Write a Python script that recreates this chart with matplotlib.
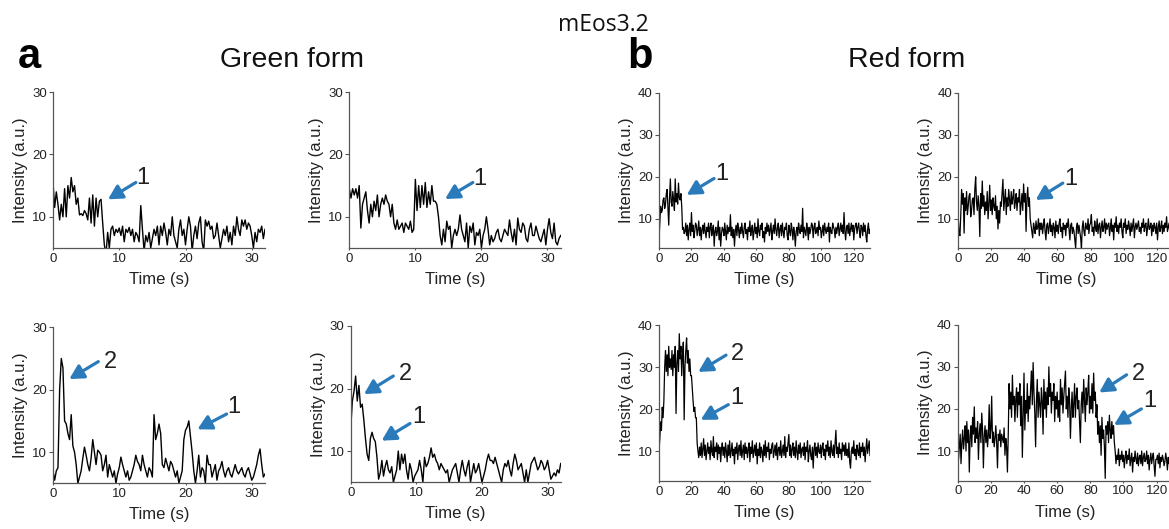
import numpy as np
import matplotlib
matplotlib.use("Agg")
import matplotlib.pyplot as plt

plt.rcParams['font.family'] = ['Liberation Sans', 'DejaVu Sans']

# ---------------- data ----------------
green_step = 0.25   # s between samples (green traces)
red_step = 0.5      # s between samples (red traces)

green_a1 = [15.5, 11.5, 14, 12, 9.5, 12, 10, 14.5,
            10, 15, 13, 16.3, 14, 15, 12, 13,
            10.3, 10.5, 10.2, 11, 10.5, 9.5, 13, 9,
            13.5, 8.5, 13, 10, 12.5, 12.8, 9, 5.5,
            4, 7.5, 5, 8, 8.5, 7, 8, 7.5,
            8.2, 7, 8.5, 6, 8, 7.5, 8.3, 7,
            8, 6, 7.5, 7, 6, 11.8, 8, 4.5,
            7, 6, 7.5, 5, 6.5, 8, 7, 8.5,
            5.5, 8.5, 7, 9, 7.5, 5.5, 8, 7,
            10, 7, 6, 5, 8, 9.5, 7, 8,
            5.5, 8, 10, 8.5, 4.5, 7, 8.5, 6.5,
            9, 10, 6, 4.5, 9.5, 8.5, 9.3, 8,
            8.5, 6.5, 7, 9, 7, 5, 6.5, 8,
            7, 8.5, 6, 7.5, 5.5, 8.5, 7, 10,
            8, 7, 9.5, 8.5, 9.5, 8, 9, 8.5,
            7, 5, 7.5, 6, 8, 7.5, 8.5, 6.5,
            8]

green_a2 = [14.5, 13, 14.5, 13.5, 14.5, 13, 15, 8.2,
            12, 13, 14, 11, 9, 12, 10, 12.5,
            11, 13.5, 10, 12, 13, 12, 13.5, 12.5,
            12, 10, 12, 9, 8, 9.5, 8, 8.5,
            9, 7.5, 9, 8.5, 8, 9.3, 7.5, 8,
            16, 11, 15, 11.5, 15, 12, 15.5, 11.5,
            14, 12, 15, 12.5, 12.5, 12, 10, 7,
            5.5, 8, 6, 9.3, 8, 8.5, 5, 7,
            8, 7, 8, 10.3, 8, 7, 6, 9,
            5, 8.5, 7.5, 9, 5.5, 7.5, 7, 8,
            5, 7, 8, 10, 8, 5.5, 7, 6,
            6.5, 7.5, 8, 6.5, 6, 7, 8, 7.5,
            7, 9.5, 7.5, 6, 8, 5.5, 9.8, 8,
            7.5, 9, 8.5, 6.5, 6, 8, 9, 7,
            7, 8.5, 7.5, 6.5, 6, 7, 8, 5.5,
            8, 9.7, 7.5, 6.5, 9, 6, 5.5, 6.5,
            7]

green_a3 = [7, 5.5, 7, 7.5, 20, 25, 23.5, 15,
            14.5, 13, 12, 16, 11, 10, 8, 5,
            6, 7, 9, 10.8, 9.5, 8, 7, 9,
            12, 10, 8, 10.3, 10, 9.5, 7, 8,
            9.5, 6, 8, 7, 6, 7, 5, 6.5,
            7.5, 9.2, 8, 7, 6, 7, 5.5, 6,
            7, 8, 9.5, 8.5, 8, 7, 9.5, 8,
            7, 6, 7.5, 7, 6, 16, 12, 13,
            14.5, 13, 8, 7.5, 9, 8, 7, 8.5,
            8, 7, 6, 7, 5, 6, 7, 12,
            13.5, 14, 15, 12.5, 10, 7, 5, 7,
            9.5, 6, 7.5, 7, 5, 9.5, 8, 8,
            6, 7, 8, 5.5, 7, 7.5, 8.5, 7,
            6, 7, 7.5, 6.5, 6, 7, 8, 7,
            6.5, 7, 7.5, 6.5, 6, 7, 7.5, 6.5,
            5.5, 6, 7, 8, 9.5, 10.5, 8, 6,
            6.5]

green_a4 = [13.5, 18, 19.5, 22, 18, 20.5, 17, 17.5,
            15, 12, 9.5, 8.5, 12, 13, 12, 11.5,
            9, 5.5, 6.5, 8.5, 6, 7.5, 8.5, 7,
            6.5, 7.5, 5, 6, 7, 10, 7, 9.5,
            8, 9.5, 7, 5.5, 8, 7, 5, 6,
            6.5, 7, 8.5, 7, 5, 9, 7.5, 8,
            9, 10.5, 9, 9.5, 8.5, 8, 7, 8,
            7.5, 7, 6.5, 7, 5, 6, 7, 7.5,
            8, 6.5, 5, 7, 8.5, 7, 6, 7.5,
            8.5, 5, 6.5, 8, 6.5, 7, 8, 6.5,
            5, 6, 7, 8.5, 9.5, 8.5, 8.5, 8,
            9, 8, 7, 6, 5, 7, 8, 7.5,
            8.5, 7, 6, 8, 9.5, 8.5, 7, 7.5,
            8, 6.5, 5, 7, 5, 6.5, 8, 8.5,
            9, 8, 7, 7.5, 8.5, 8, 7, 7.5,
            8.5, 7, 5.5, 6, 6.5, 6, 7, 6.5,
            8]

red_b1 = [5, 9, 13, 11.5, 12, 14.5, 15, 12.5, 13.5, 16,
          17, 13, 8.5, 15, 19.5, 14, 13, 16.5, 14.5, 12,
          19.5, 14, 16, 13.5, 18.5, 15, 14.5, 16, 13, 7.5,
          8, 6.5, 7, 9, 6, 8.5, 5, 7.5, 9, 6,
          11.5, 7, 8.5, 5.5, 7, 9, 8.5, 6, 7.5, 9.5,
          6, 8, 5, 7.5, 8.5, 6.5, 9, 7, 5.5, 8,
          7, 9, 5.5, 8, 9, 6, 7.5, 8.5, 3.5, 7,
          8, 6, 7, 9.5, 5, 8, 3.5, 6.5, 8, 7.5,
          6, 9, 7, 5, 8.5, 6.5, 8, 7, 11, 6,
          8, 5.5, 7.5, 3.5, 7, 8.5, 6, 9, 7.5, 5.5,
          8, 6.5, 9, 7, 5.5, 8, 9, 6.5, 7.5, 5,
          8, 7, 9.5, 6, 7.5, 8.5, 5, 7, 9, 6.5,
          8, 5.5, 10, 7, 6, 8.5, 7.5, 9, 5.5, 7,
          4.5, 8, 6.5, 9, 7, 8.5, 6, 7.5, 9, 5,
          7, 8.5, 6.5, 10, 7.5, 6, 8, 9, 5.5, 7.5,
          8.5, 6, 9, 7, 5.5, 8, 7.5, 9, 6, 5,
          8.5, 7, 6, 9, 7.5, 5, 8, 6.5, 3.5, 7,
          8, 6, 9, 7.5, 6.5, 8.5, 7, 12.5, 5.5, 8,
          7, 6, 9, 7.5, 5, 8, 6.5, 7.5, 9, 8.5,
          5.5, 8, 9, 6.5, 7, 8, 6, 9.5, 7.5, 8,
          5.5, 7, 8.5, 6, 9, 7.5, 6.5, 8, 7, 9,
          4.5, 8, 7, 6.5, 9, 8, 7.5, 5.5, 8, 6.5,
          8, 9, 6, 7.5, 9, 7, 8.5, 6.5, 11.5, 7,
          5, 8, 8.5, 6.5, 9, 6, 7.5, 9, 7, 8.5,
          5, 7.5, 8.5, 9, 6.5, 8, 9, 7, 5.5, 8.5,
          8, 6, 9, 7, 8.5, 6, 4.5, 7.5, 9, 6.5,
          7.5]

red_b2 = [10, 6.5, 6, 11, 17, 13.5, 16, 6.6, 15, 12,
          16.5, 11, 13, 15.5, 16, 10.5, 12, 14.5, 15, 11,
          17, 20, 14, 12, 15.5, 13, 5.8, 16, 12.5, 19,
          13, 15.5, 11, 14, 12, 16.5, 10, 13.5, 18, 12,
          14.5, 11, 15, 13, 12, 15.5, 10, 13, 7.6, 12,
          9, 14, 13, 16, 19.4, 12, 14.5, 17, 11, 15,
          13, 17, 14.5, 12, 16.5, 13.5, 15, 17, 12.5, 14,
          16, 12, 15, 14, 17, 11, 13.5, 16, 12, 18.3,
          14, 16, 7, 15, 17.5, 13, 15, 10, 8.5, 7,
          5.5, 9, 8, 6.5, 9.5, 7.5, 8, 10, 6, 9,
          7.5, 9, 6.5, 8.5, 10, 7, 5, 8.5, 9, 6.5,
          8, 10, 7, 8.5, 6, 9, 8, 5.5, 9.5, 7,
          8.5, 6.5, 9, 10, 7, 8, 5.5, 9, 7.5, 8.5,
          6, 9, 8, 10, 7.5, 5, 8.5, 9, 6.5, 8,
          7, 5, 3, 8, 9, 6.5, 8.5, 7, 5.5, 3,
          8, 9.5, 7, 6, 9, 8, 7.5, 10, 6.5, 8.5,
          9, 11, 7, 8, 6, 9.5, 8, 7, 10, 6.5,
          8.5, 9, 5.5, 8, 9.5, 7, 8, 10, 6.5, 9,
          7.5, 8.5, 9, 6, 8, 10, 7, 8.5, 5, 9,
          8, 10.5, 7, 8.5, 6.5, 9, 8, 10, 7, 5.5,
          9, 8, 10, 6.5, 8.5, 7.5, 9.5, 8, 6, 9,
          7, 8.5, 10, 5.5, 8, 9, 7.5, 8.5, 9.5, 7,
          8, 6.5, 9, 8, 10, 7, 8.5, 9, 6, 8,
          10, 7.5, 8, 9, 6, 8.5, 7, 9, 8, 6.5,
          9, 5, 8, 9.5, 7, 8, 9.5, 6.5, 8.5, 7,
          9, 8, 10.5, 7, 8, 9, 6.5, 8.5, 7.5, 9,
          8]

red_b3 = [10, 13, 17, 15, 20.5, 18, 22, 30, 34, 29,
          33, 28, 35, 30, 32, 29.5, 34, 28, 33, 30,
          35, 19, 31, 34, 29, 38, 32, 35, 28, 33,
          36, 17.5, 30, 34, 37, 31, 34, 29, 32, 28,
          28, 25, 22, 19.5, 20.5, 18, 18, 12, 10, 8.5,
          11, 9, 12, 8.5, 10.5, 13, 9, 11.5, 8, 10,
          12, 9.5, 11, 8, 12.5, 10, 9, 13.5, 8.5, 11,
          10, 12, 8, 11.5, 9.5, 11, 7.5, 10.5, 12, 9,
          11, 8.5, 12, 10, 7.5, 11.5, 9, 12.5, 8.5, 10,
          12, 9, 10.5, 7, 11, 9.5, 12, 8, 10.5, 11.5,
          9, 12.5, 8.5, 10, 11.5, 8, 12, 9.5, 11, 8.5,
          10.5, 12, 7.5, 11, 9.5, 12.5, 8.5, 10, 11.5, 9,
          12, 7, 10.5, 9, 12, 8.5, 11, 10, 7.5, 11.5,
          9, 12.5, 8.5, 11, 10, 12, 8, 10.5, 9.5, 11.5,
          12, 8.5, 10, 11.5, 9, 12, 8, 10.5, 11, 9,
          12.5, 8.5, 10, 11.5, 9, 13.5, 8.5, 11, 10, 12,
          14, 9, 11.5, 8.5, 10.5, 12, 9, 11, 8.5, 12.5,
          10, 8, 11.5, 9.5, 12, 8.5, 10.5, 11, 9, 12,
          8, 11, 10, 12.5, 7.5, 10, 11.5, 9, 8, 11,
          6, 10.5, 12, 9, 11, 8.5, 12, 10, 9.5, 11.5,
          8.5, 11, 12, 9, 10.5, 8, 11.5, 10, 12.5, 9,
          11, 8.5, 12.5, 10, 9, 11.5, 8.5, 12, 15, 9.5,
          11, 8.5, 12, 9.5, 10.5, 8, 12, 10, 11.5, 9,
          12, 9, 10.5, 8.5, 12, 7.5, 6, 10, 11, 9.5,
          12.5, 9, 10.5, 8, 11.5, 10, 9, 12, 8.5, 11,
          10, 12, 9, 11, 7.5, 10.5, 13, 9.5, 11, 12.5,
          9]

red_b4 = [18.5, 8, 11, 14, 7, 12, 15, 10.5, 13, 16,
          10, 17, 12, 15, 5, 13.5, 16, 11, 18, 14,
          20.5, 12, 15.5, 13, 17, 8, 14, 16.5, 12, 19,
          15, 6, 13.5, 16, 12, 15, 11, 14, 21, 13,
          15, 23, 12, 14.5, 11, 13, 16, 12, 6, 14,
          12.5, 15, 11, 14, 13, 12, 15.5, 9, 13, 11,
          5, 14, 26, 20, 24, 18, 28, 21, 23, 17,
          22, 25, 18, 24, 21, 26, 16, 23, 8.5, 19,
          28.5, 15, 22, 19, 26, 17, 23, 20, 25, 29,
          21, 31, 24, 19, 11, 22, 27, 18, 24, 21,
          18, 25, 22, 14, 27, 20, 24, 18, 25, 21,
          30, 23, 26, 19, 24, 22, 26, 17, 23, 20,
          24, 18, 22, 17, 27, 21, 25, 19, 23, 26,
          29, 20, 23, 18, 25, 22, 13, 20, 24, 18,
          21, 26, 18, 23, 25, 20, 22, 17, 12, 21,
          24, 19, 27, 22, 17, 25, 21, 24, 28, 19,
          23, 20, 26, 19, 28.5, 22, 24, 18, 21, 14,
          17, 12, 16, 9, 18, 13, 15, 11, 3.5, 16,
          14, 17, 12, 18.5, 15, 13, 17, 14, 16, 12,
          10, 7, 9, 8, 10.5, 6.5, 9, 8, 10, 7.5,
          9, 6, 8.5, 10, 7, 9, 8, 10.5, 6.5, 8,
          9.5, 5, 8.5, 7.5, 10, 8, 7, 9.5, 6.5, 8.5,
          9, 7, 10, 6.5, 8.5, 9.5, 7.5, 8, 10, 7,
          9, 5.5, 8, 9.5, 7, 8.5, 9.5, 6.5, 4, 8,
          8, 9, 7, 9.5, 6, 8.5, 7.5, 9, 8, 6.5,
          7.5, 9.5, 8, 5.5, 8.5, 7, 9, 8, 6.5, 9,
          6.5]

green_xticks = [0, 10, 20, 30]
green_yticks = [10, 20, 30]
red_xticks = [0, 20, 40, 60, 80, 100, 120]
red_yticks = [10, 20, 30, 40]

# ---------------- layout ----------------
W, H = 1169, 529
fig = plt.figure(figsize=(W / 100, H / 100), dpi=100)

def rect(l, r, t, b):
    return [l / W, 1 - b / H, (r - l) / W, (b - t) / H]

ARROW = '#2B7BBA'

panels = [
    # values, step, px box (l, r, t, b), xlim, ylim, xticks, yticks, annotations
    (green_a1, green_step, (53, 265, 92, 248), (0, 32), (5, 30), green_xticks, green_yticks,
     [('1', (13.6, 16.2), (12.5, 15.5), (8.3, 12.8))]),
    (green_a2, green_step, (349.3, 560.7, 92, 248), (0, 32), (5, 30), green_xticks, green_yticks,
     [('1', (19.8, 16.1), (18.7, 15.5), (14.5, 12.85))]),
    (green_a3, green_step, (53, 265, 327.3, 483.3), (0, 32), (5, 30), green_xticks, green_yticks,
     [('2', (8.6, 24.4), (6.84, 24.5), (2.46, 21.7)),
      ('1', (27.3, 17.2), (26.2, 16.1), (21.8, 13.65))]),
    (green_a4, green_step, (350.7, 560.7, 326, 482.3), (0, 32), (5, 30), green_xticks, green_yticks,
     [('2', (8.4, 22.3), (6.49, 22.0), (2.03, 19.1)),
      ('1', (10.4, 15.4), (9.03, 14.4), (4.72, 11.66))]),
    (red_b1, red_step, (659, 870, 92.7, 248.3), (0, 130), (3, 40), red_xticks, red_yticks,
     [('1', (38.8, 20.6), (33.9, 19.6), (17.1, 15.7))]),
    (red_b2, red_step, (958.3, 1173.2, 92.7, 248.3), (0, 130), (3, 40), red_xticks, red_yticks,
     [('1', (68.2, 19.5), (63.2, 18.5), (46.8, 14.5))]),
    (red_b3, red_step, (659, 870, 325.3, 480.7), (0, 130), (3, 40), red_xticks, red_yticks,
     [('2', (48.2, 33.2), (41.3, 32.9), (24.2, 28.9)),
      ('1', (48.2, 22.6), (42.7, 21.1), (25.7, 17.5))]),
    (red_b4, red_step, (957.7, 1173.2, 324.7, 480.5), (0, 130), (3, 40), red_xticks, red_yticks,
     [('2', (109.2, 28.3), (101.9, 28.1), (85.4, 23.9)),
      ('1', (115.7, 21.9), (110.8, 20.0), (94.3, 16.2))]),
]

SPINE = '#555555'
for vals, step, box, xl, yl, xt, yt, annots in panels:
    l, r, t, b = box
    ax = fig.add_axes(rect(l, r, t, b))
    v = np.asarray(vals, dtype=float)
    tt = np.arange(len(v)) * step
    ax.plot(tt, v, color='black', lw=1.0 if step < 0.5 else 0.9)
    ax.set_xlim(*xl)
    ax.set_ylim(*yl)
    ax.set_xticks(xt)
    ax.set_yticks(yt)
    for s in ('top', 'right'):
        ax.spines[s].set_visible(False)
    for s in ('left', 'bottom'):
        ax.spines[s].set_color(SPINE)
        ax.spines[s].set_linewidth(0.9)
    ax.tick_params(axis='y', direction='out', length=3, width=0.8, colors=SPINE,
                   labelsize=9.5, labelcolor='#222222', pad=1.5)
    ax.tick_params(axis='x', direction='out', length=1.5, width=0.8, colors=SPINE,
                   labelsize=9.5, labelcolor='#222222', pad=2)
    ax.set_ylabel('Intensity (a.u.)', fontsize=12, color='#222222')
    ax.set_xlabel('Time (s)', fontsize=12, color='#222222')
    wpx, hpx = r - l, b - t
    ax.yaxis.set_label_coords(-25 / wpx, 0.5)
    ax.xaxis.set_label_coords(0.5, -24 / hpx)
    for lab, txy, tail, head in annots:
        ax.annotate('', xy=head, xytext=tail,
                    arrowprops=dict(arrowstyle='-|>,head_length=0.7,head_width=0.38',
                                    color=ARROW, lw=2.3, shrinkA=0, shrinkB=0,
                                    mutation_scale=12))
        ax.text(txy[0], txy[1], lab, ha='center', va='center', fontsize=17,
                color='#222222')

def ftext(x, y, s, **kw):
    fig.text(x / W, 1 - y / H, s, **kw)

ftext(603, 31, 'mEos3.2', ha='center', va='baseline', fontsize=16.5,
      family=['Open Sans', 'DejaVu Sans'], color='#111111')
ftext(18, 68, 'a', ha='left', va='baseline', fontsize=30, fontweight='bold')
ftext(627, 68, 'b', ha='left', va='baseline', fontsize=30, fontweight='bold')
ftext(292.5, 67, 'Green form', ha='center', va='baseline', fontsize=20.5, color='#111111')
ftext(906.5, 67, 'Red form', ha='center', va='baseline', fontsize=20.5, color='#111111')

fig.savefig('out.png', dpi=100, facecolor='white')
